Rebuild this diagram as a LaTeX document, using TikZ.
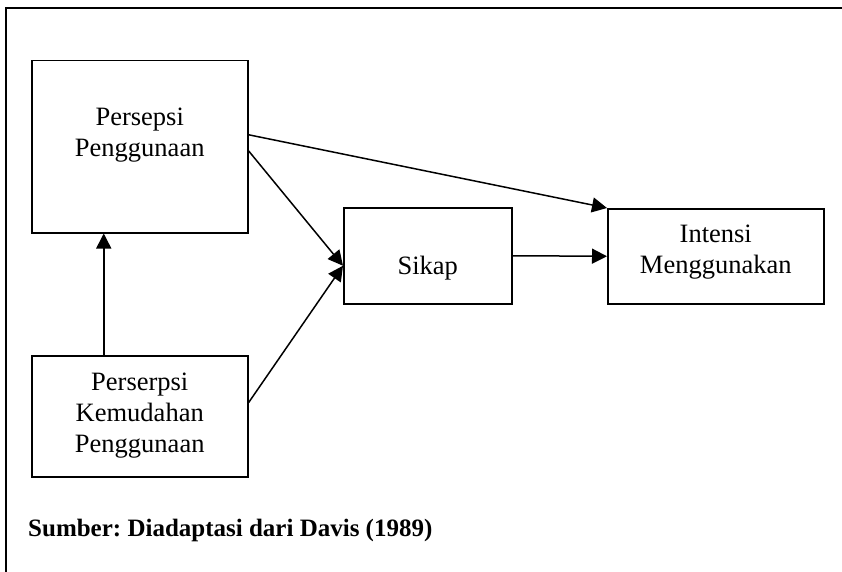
\documentclass[tikz,border=0pt]{standalone}
\usepackage{fontspec}
\setmainfont{Liberation Serif}
\usetikzlibrary{arrows.meta, positioning}
\frenchspacing

\begin{document}
\begin{tikzpicture}[x=1pt, y=-1pt, box/.style={draw, line width=1.5pt, inner sep=0pt, anchor=north west, font=\fontsize{26.5}{31}\selectfont}, link/.style={line width=1.5pt, -{Triangle[length=15pt, width=15pt]}}]

        \useasboundingbox (0,0) rectangle (842,572);
        \draw[line width=2pt] (6,572) -- (6,8) -- (842,8);

        \node[box] (persepsi) at (31,60) {\parbox[c][172pt][t]{216pt}{\centering\vspace*{47pt}Persepsi\\Penggunaan}};

        \node[box] (kemudahan) at (31,355) {\parbox[c][121pt][t]{216pt}{\centering\vspace*{17pt}Perserpsi\\Kemudahan\\Penggunaan}};

        \node[box] (sikap) at (343,207) {\parbox[c][96pt][t]{168pt}{\centering\vspace*{48pt}Sikap}};

        \node[box] (intensi) at (607,208) {\parbox[c][95pt][t]{216pt}{\centering\vspace*{16pt}Intensi\\Menggunakan}};

        \node[anchor=base west, inner sep=0pt, font=\fontsize{25}{30}\selectfont\bfseries] (sumber) at (28,536) {Sumber: Diadaptasi dari Davis (1989)};

        \path[link]
        ([yshift=12pt]persepsi.east) edge[] (intensi.north west)
        ([yshift=-4pt]persepsi.east) edge[] ([yshift=-10pt]sikap.west)
        ([yshift=13.5pt]kemudahan.east) edge[] ([yshift=-10pt]sikap.west)
        (sikap.east) edge[] (intensi.west)
        ([xshift=-36pt]kemudahan.north) edge[] ([xshift=-36pt]persepsi.south);

    \end{tikzpicture}
\end{document}
